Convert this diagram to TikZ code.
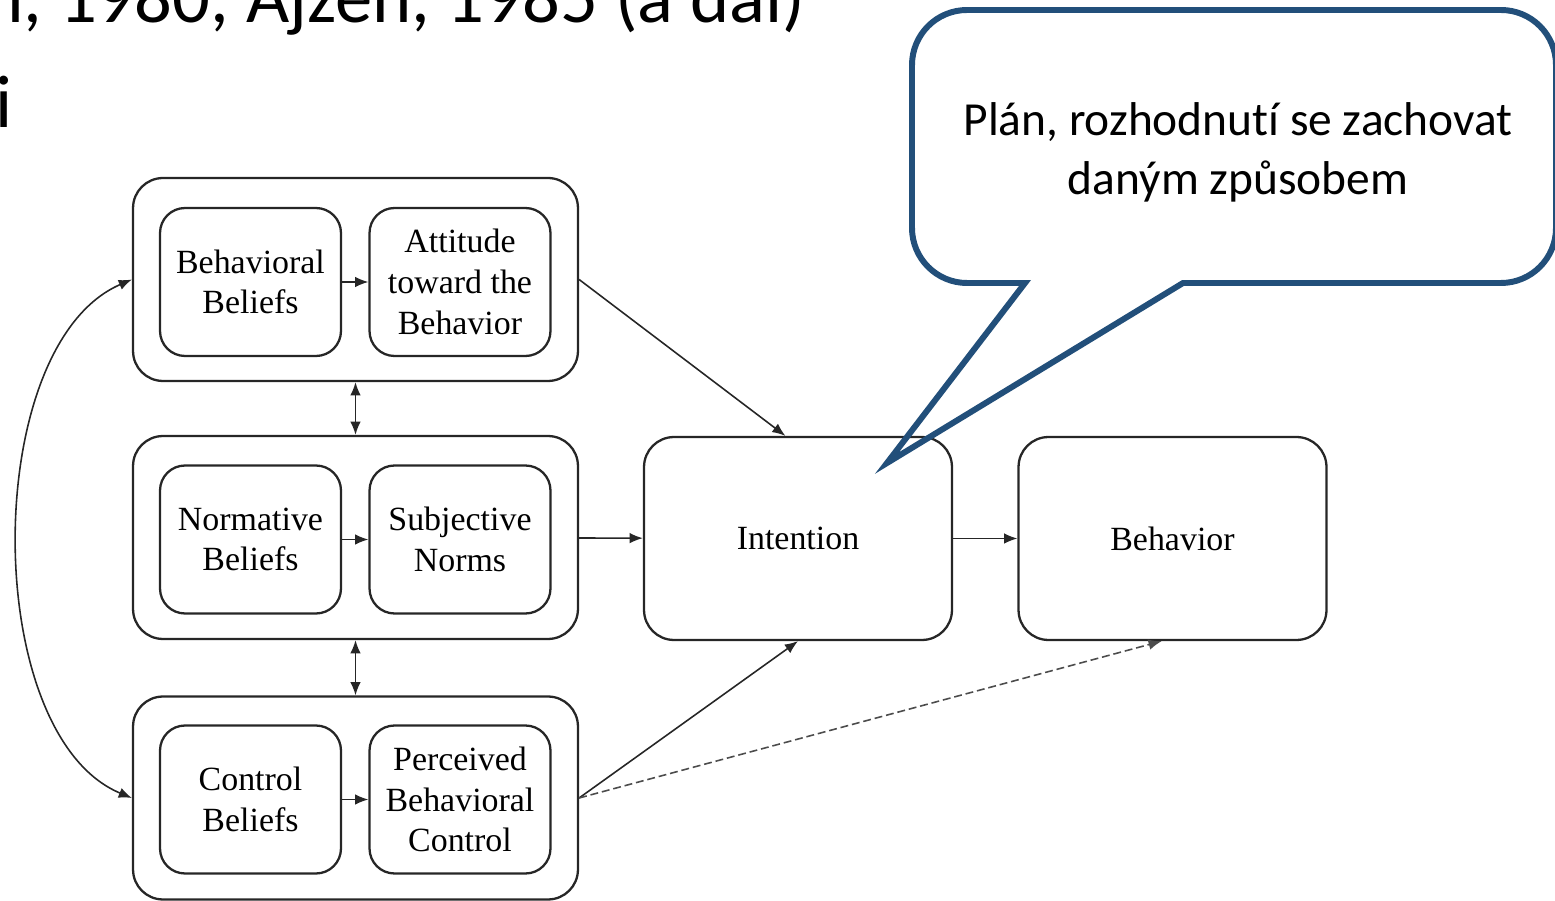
\documentclass[tikz,border=0pt]{standalone}
\usepackage{fontspec}
\setmainfont{Liberation Serif}
\newfontfamily\slidefont[Ligatures=CommonOff]{Carlito}
\usetikzlibrary{arrows.meta}

\definecolor{calloutblue}{RGB}{34,79,122}
\newcommand{\diag}{\fontsize{19.3}{23.2}\selectfont}

\tikzset{
  grp/.style={draw=black!85, line width=1.3pt, rounded corners=0.6cm,
    minimum width=8.9cm, minimum height=4.06cm},
  inbox/.style={draw=black!85, line width=1.3pt, rounded corners=0.5cm,
    minimum width=3.62cm, minimum height=2.96cm, align=center, font=\diag},
  bigbox/.style={draw=black!85, line width=1.3pt, rounded corners=0.6cm,
    minimum width=6.16cm, minimum height=4.06cm, font=\diag},
  link/.style={-{Latex[length=7.5pt,width=6pt]}, line width=0.9pt, black!85},
  twoway/.style={{Latex[length=7.5pt,width=6pt]}-{Latex[length=7.5pt,width=6pt]},
    line width=0.9pt, black!85},
}

\begin{document}
\begin{tikzpicture}[x=0.02cm, y=-0.02cm]
      \useasboundingbox (0,0) rectangle (1555,901);
      \clip (0,0) rectangle (1555,901);

      % slide text cut by the frame
      \node[anchor=base west, inner sep=0, font=\slidefont\fontsize{42.5}{50}\selectfont]
        (slidea) at (-16,23) {n, 1980, Ajzen, 1985 (a dal)};
      \node[anchor=base west, inner sep=0, font=\slidefont\fontsize{42.5}{50}\selectfont]
        (slideb) at (-5,128) {i};

      % groups
      \node[grp] (attg) at (355.5,279.5) {};
      \node[grp] (normg) at (355.5,537.5) {};
      \node[grp] (ctrlg) at (355.5,798) {};

      \node[inbox] (bb) at (250.5,282) {Behavioral\\Beliefs};
      \node[inbox] (att) at (460,282) {Attitude\\toward the\\Behavior};
      \node[inbox] (nb) at (250.5,539.5) {Normative\\Beliefs};
      \node[inbox] (sn) at (460,539.5) {Subjective\\Norms};
      \node[inbox] (cb) at (250.5,799.5) {Control\\Beliefs};
      \node[inbox] (pbc) at (460,799.5) {Perceived\\Behavioral\\Control};

      \node[bigbox] (intent) at (798,538.5) {Intention};
      \node[bigbox] (behav) at (1172.5,538.5) {Behavior};

      \draw[link] (bb) -- (att);
      \draw[link] (nb) -- (sn);
      \draw[link] (cb) -- (pbc);

      \draw[twoway] (attg) -- (normg);
      \draw[twoway] (normg) -- (ctrlg);
      \draw[twoway] (attg.west) .. controls (-20,345) and (-20,735) .. (ctrlg.west);

      \draw[link] (attg.east) -- (intent.97);
      \draw[link] (normg) -- (intent);
      \draw[link] (ctrlg.east) -- (intent.south);
      \draw[link, dash pattern=on 4.5pt off 2.2pt, black!70] (ctrlg.east) -- (behav.264);
      \draw[link] (intent) -- (behav);

      % callout
      \draw[calloutblue, line width=3.4pt, line join=miter]
        (1200,10) [rounded corners=1.1cm] -- (1556,10) -- (1556,283)
        [sharp corners] -- (1183,283) -- (887,463) -- (1025,283)
        [rounded corners=1.1cm] -- (912,283) -- (912,10) -- cycle;
      \node[align=center, font=\slidefont\fontsize{27}{33.5}\selectfont]
        (plan) at (1238,152) {Plán, rozhodnutí se zachovat\\daným způsobem};
\end{tikzpicture}
\end{document}
